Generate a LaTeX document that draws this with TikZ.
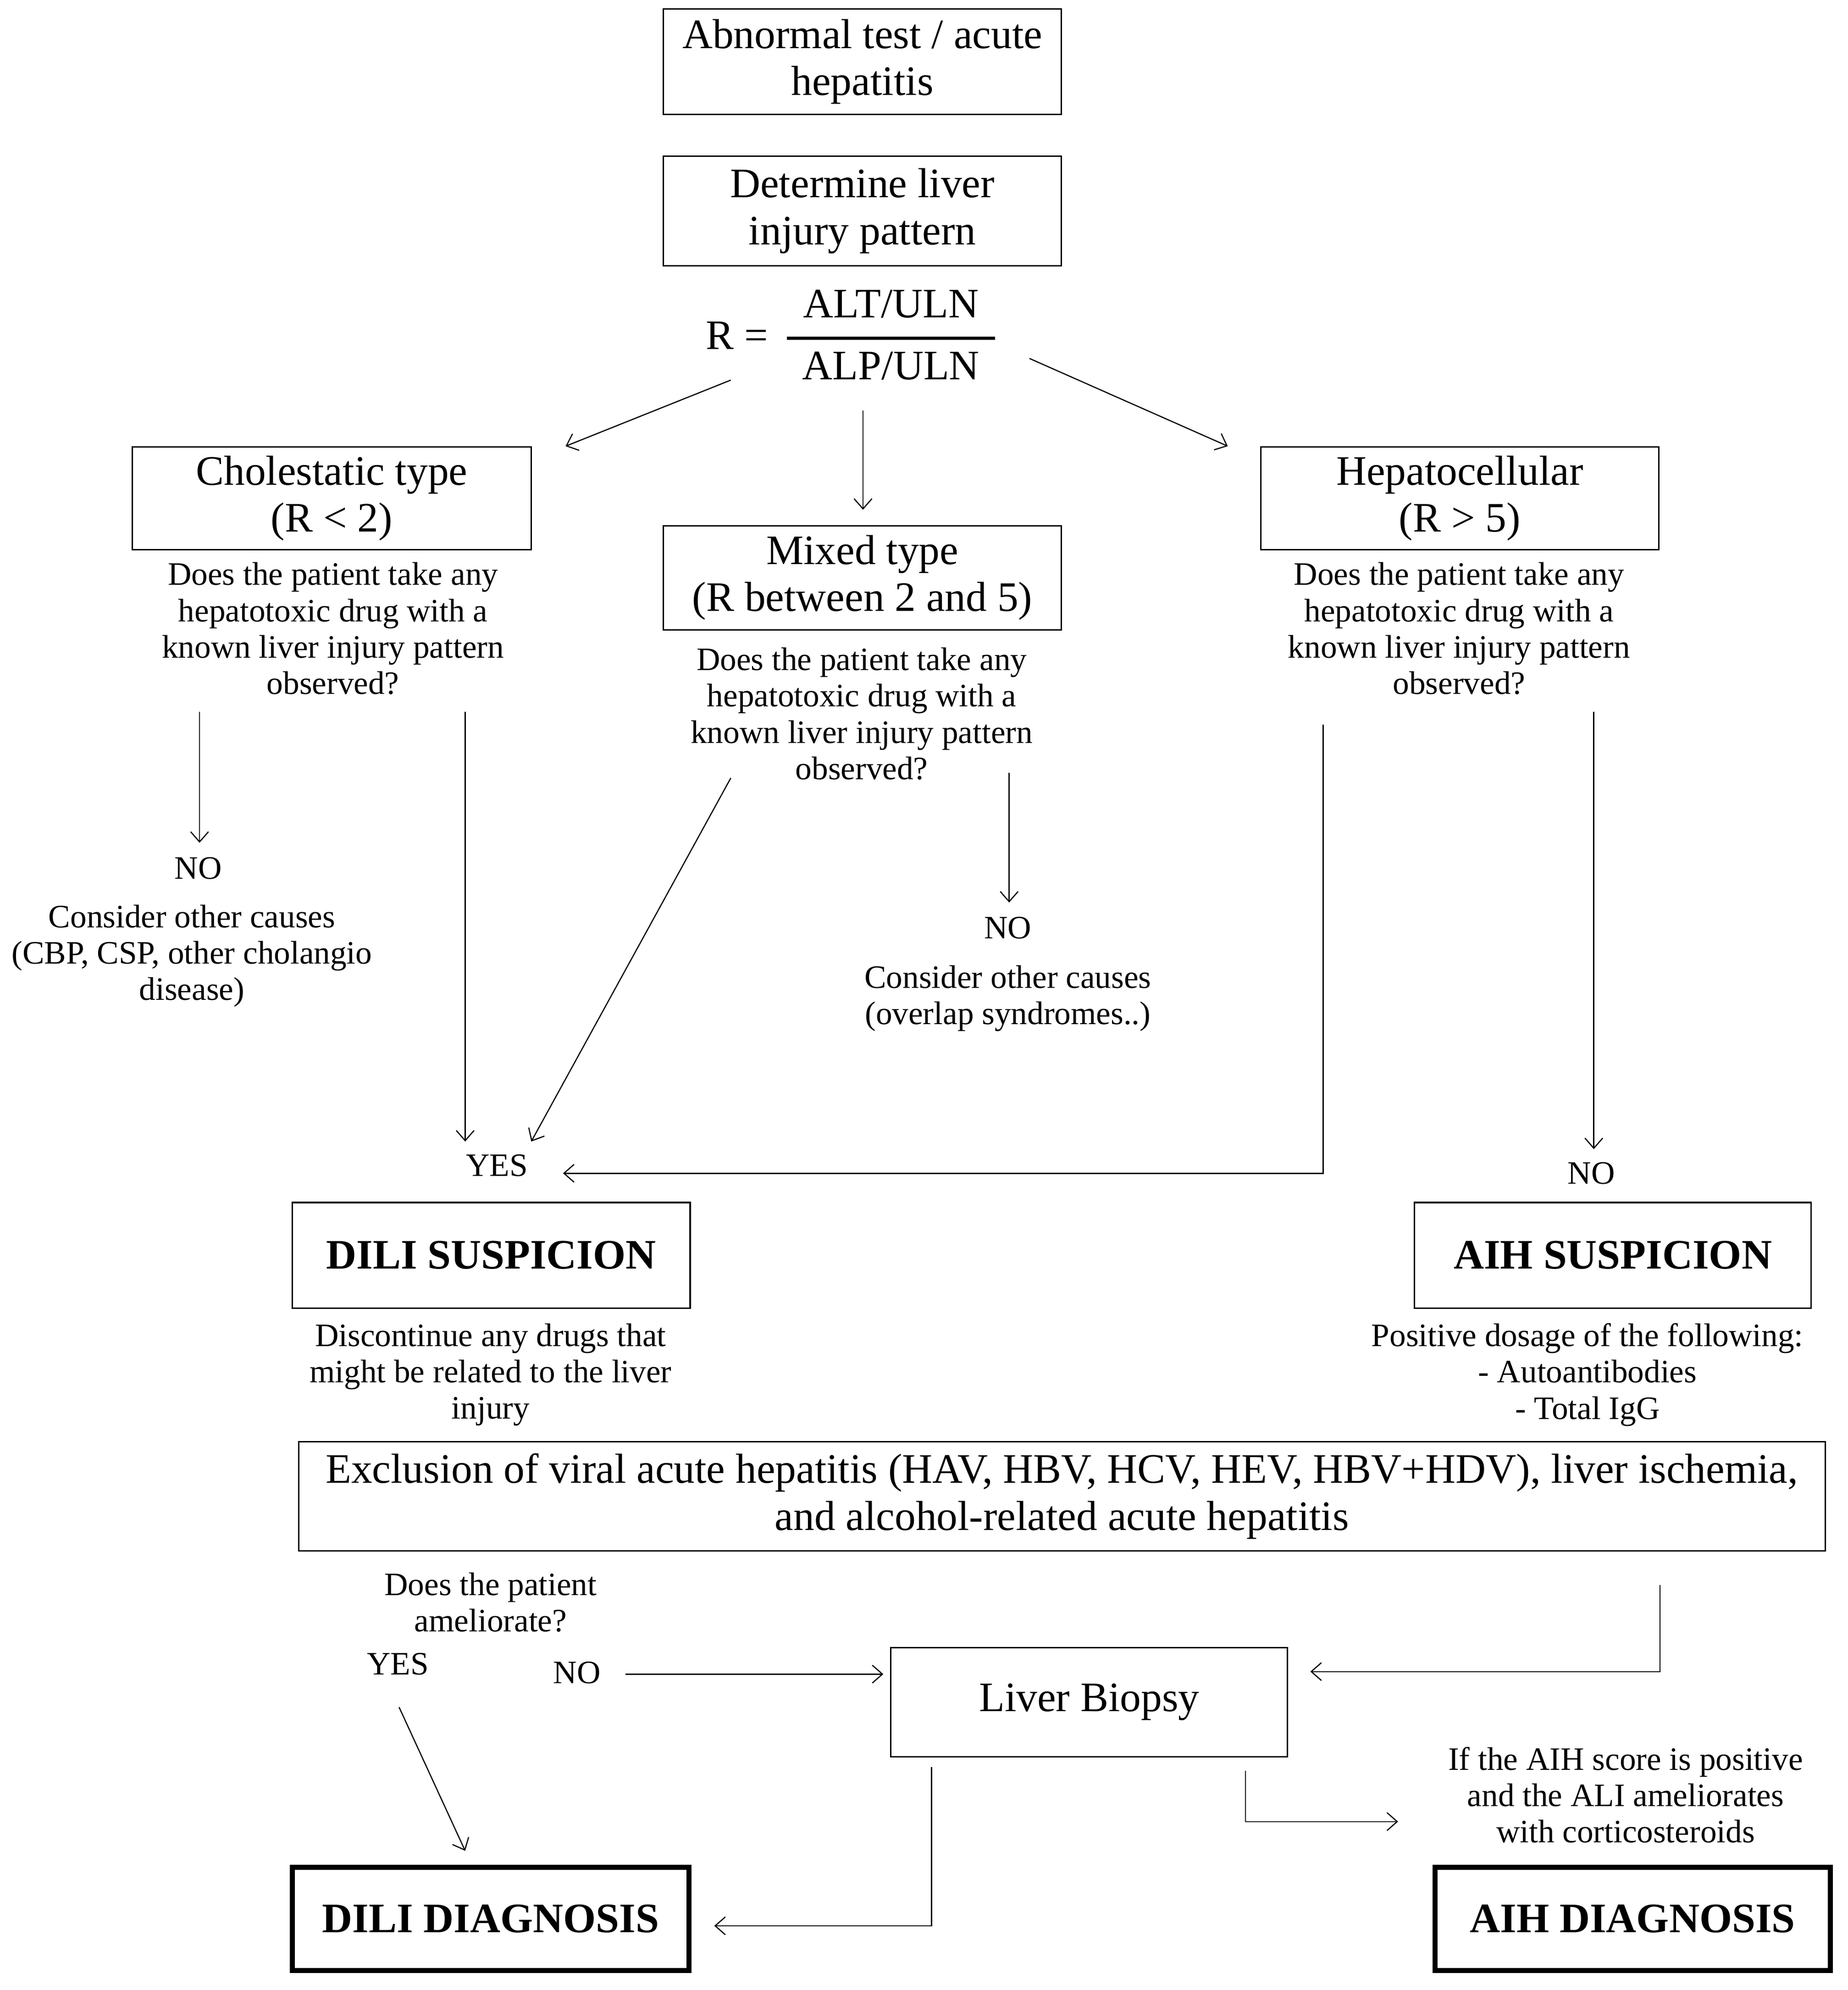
\documentclass[tikz,border=0pt]{standalone}
\usepackage{fontspec}
\setmainfont{Liberation Serif}
\usetikzlibrary{arrows.meta}
\newcommand\fbig{\fontsize{33}{37}\selectfont}
\newcommand\fsmall{\fontsize{25.7}{28.6}\selectfont}
\begin{document}
\begin{tikzpicture}[x=1pt,y=-1pt,
  box/.style={draw, line width=1.1pt, inner sep=0pt, align=center, font=\fbig},
  thickbox/.style={draw, line width=4pt, inner sep=0pt, align=center, font=\fbig\bfseries},
  lbl/.style={inner sep=0pt, align=center, font=\fsmall},
  arr/.style={-{Straight Barb[length=8pt,width=14pt]}, line width=0.9pt}]
\useasboundingbox[fill=white] (0,0) rectangle (1454,1565.5);

% boxes
\node[box, minimum width=313pt, minimum height=83pt] (abn) at (678.5,48.5) {Abnormal test / acute\\hepatitis};
\node[box, minimum width=313pt, minimum height=86pt] (det) at (678.5,166) {Determine liver\\injury pattern};
\node[box, minimum width=314pt, minimum height=81pt] (chol) at (261,392) {Cholestatic type\\(R < 2)};
\node[box, minimum width=313pt, minimum height=82pt] (mix) at (678.5,454.5) {Mixed type\\(R between 2 and 5)};
\node[box, minimum width=313pt, minimum height=81pt] (hep) at (1148.5,392) {Hepatocellular\\(R > 5)};
\node[box, minimum width=313pt, minimum height=83pt, font=\fbig\bfseries] (dilis) at (386.5,987.5) {DILI SUSPICION};
\node[box, minimum width=312pt, minimum height=83pt, font=\fbig\bfseries] (aihs) at (1269,987.5) {AIH SUSPICION};
\node[box, minimum width=1201pt, minimum height=86pt] (excl) at (835.5,1177) {Exclusion of viral acute hepatitis (HAV, HBV, HCV, HEV, HBV+HDV), liver ischemia,\\and alcohol-related acute hepatitis};
\node[box, minimum width=312pt, minimum height=86pt] (biop) at (857,1339) {Liver Biopsy};
\node[thickbox, minimum width=312pt, minimum height=81pt] (dilid) at (386,1509.5) {DILI DIAGNOSIS};
\node[thickbox, minimum width=311pt, minimum height=81pt] (aihd) at (1284.5,1509.5) {AIH DIAGNOSIS};

% formula
\node[inner sep=0pt, font=\fbig] (req) at (580,264) {R =};
\node[inner sep=0pt, font=\fbig] (num) at (701,239) {ALT/ULN};
\node[inner sep=0pt, font=\fbig] (den) at (701,288) {ALP/ULN};
\coordinate (barl) at (619,266);
\coordinate (barr) at (783,266);
\draw[line width=2.4pt] (barl) -- (barr);

% labels
\node[lbl] (q1) at (262,494.5) {Does the patient take any\\hepatotoxic drug with a\\known liver injury pattern\\observed?};
\node[lbl] (q2) at (678,561.5) {Does the patient take any\\hepatotoxic drug with a\\known liver injury pattern\\observed?};
\node[lbl] (q3) at (1148,494.5) {Does the patient take any\\hepatotoxic drug with a\\known liver injury pattern\\observed?};
\node[lbl] (no1) at (156,683) {NO};
\node[lbl] (oth1) at (151,752) {Consider other causes\\(CBP, CSP, other cholangio\\disease)};
\node[lbl] (no2) at (793,730) {NO};
\node[lbl] (oth2) at (793,785.5) {Consider other causes\\(overlap syndromes..)};
\node[lbl] (yes1) at (391,917) {YES};
\node[lbl] (no3) at (1252,923) {NO};
\node[lbl] (disc) at (386,1081.5) {Discontinue any drugs that\\might be related to the liver\\injury};
\node[lbl] (pos) at (1249,1081.5) {Positive dosage of the following:\\- Autoantibodies\\- Total IgG};
\node[lbl] (amel) at (386,1260.5) {Does the patient\\ameliorate?};
\node[lbl] (yes2) at (313,1309) {YES};
\node[lbl] (no4) at (454,1316) {NO};
\node[lbl] (ifaih) at (1279,1412) {If the AIH score is positive\\and the ALI ameliorates\\with corticosteroids};

% connector end points
\coordinate (a1s) at (575,299);  \coordinate (a1e) at (445,351);
\coordinate (a2s) at (679,323);  \coordinate (a2e) at (679,401);
\coordinate (a3s) at (810,282);  \coordinate (a3e) at (966,351);
\coordinate (b1s) at (157,560);  \coordinate (b1e) at (157,663);
\coordinate (b2s) at (366,560);  \coordinate (b2e) at (366,898);
\coordinate (b3s) at (575,612);  \coordinate (b3e) at (418,898);
\coordinate (b4s) at (794,608);  \coordinate (b4e) at (794,710);
\coordinate (b5s) at (1041,570); \coordinate (b5c) at (1041,923); \coordinate (b5e) at (443,923);
\coordinate (b6s) at (1254,560); \coordinate (b6e) at (1254,904);
\coordinate (c1s) at (492,1317); \coordinate (c1e) at (695,1317);
\coordinate (c2s) at (1306,1247); \coordinate (c2c) at (1306,1315); \coordinate (c2e) at (1031,1315);
\coordinate (c3s) at (314,1343); \coordinate (c3e) at (366,1456);
\coordinate (c4s) at (733,1390); \coordinate (c4c) at (733,1515); \coordinate (c4e) at (562,1515);
\coordinate (c5s) at (980,1393); \coordinate (c5c) at (980,1433); \coordinate (c5e) at (1100,1433);

\draw[arr] (a1s) -- (a1e);
\draw[arr] (a2s) -- (a2e);
\draw[arr] (a3s) -- (a3e);
\draw[arr] (b1s) -- (b1e);
\draw[arr] (b2s) -- (b2e);
\draw[arr] (b3s) -- (b3e);
\draw[arr] (b4s) -- (b4e);
\draw[arr] (b5s) -- (b5c) -- (b5e);
\draw[arr] (b6s) -- (b6e);
\draw[arr] (c1s) -- (c1e);
\draw[arr] (c2s) -- (c2c) -- (c2e);
\draw[arr] (c3s) -- (c3e);
\draw[arr] (c4s) -- (c4c) -- (c4e);
\draw[arr] (c5s) -- (c5c) -- (c5e);
\end{tikzpicture}
\end{document}
